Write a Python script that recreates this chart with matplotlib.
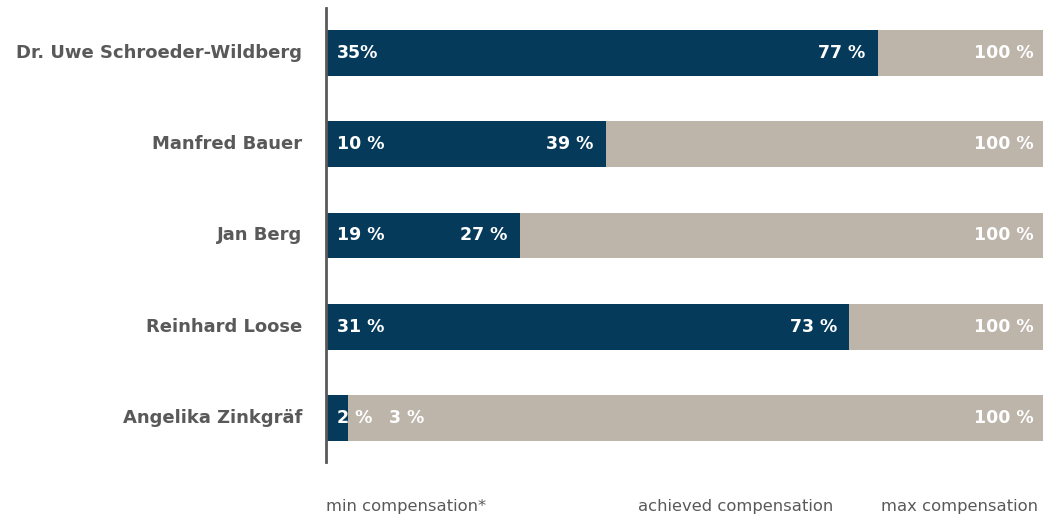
import matplotlib
matplotlib.use('Agg')
import matplotlib.pyplot as plt

names = ["Dr. Uwe Schroeder-Wildberg", "Manfred Bauer", "Jan Berg",
         "Reinhard Loose", "Angelika Zinkgräf"]
achieved = [77, 39, 27, 73, 3]
max_comp = [100, 100, 100, 100, 100]
min_labels = ["35%", "10 %", "19 %", "31 %", "2 %"]
achieved_labels = ["77 %", "39 %", "27 %", "73 %", "3 %"]
max_labels = ["100 %", "100 %", "100 %", "100 %", "100 %"]
legend_texts = ["min compensation*", "achieved compensation", "max compensation"]

navy = "#063a5b"
grey = "#bdb4aa"
text_grey = "#595959"
fnt = "DejaVu Sans"

fig = plt.figure(figsize=(10.43, 5.15), dpi=100)
ax = fig.add_axes([326 / 1043, 1 - 462 / 515, 717 / 1043, 454 / 515])

ypos = list(range(len(names)))
ax.barh(ypos, max_comp, height=0.5, color=grey)
ax.barh(ypos, achieved, height=0.5, color=navy)

ax.set_xlim(0, 100)
ax.set_ylim(4.48, -0.49)
ax.set_xticks([])
ax.set_yticks([])
for s in ["top", "right", "bottom"]:
    ax.spines[s].set_visible(False)
ax.spines["left"].set_color(text_grey)
ax.spines["left"].set_linewidth(2)
ax.spines["left"].set_zorder(5)

for i, name in enumerate(names):
    ax.annotate(name, (0, i), xytext=(-17, 0), textcoords="offset points",
                ha="right", va="center", fontsize=13, fontweight="bold",
                color=text_grey, family=fnt)
    ax.annotate(min_labels[i], (0, i), xytext=(8, 0), textcoords="offset points",
                ha="left", va="center", fontsize=12.5, fontweight="bold",
                color="white", family=fnt)
    if achieved[i] > 10:
        ax.annotate(achieved_labels[i], (achieved[i], i), xytext=(-9, 0),
                    textcoords="offset points", ha="right", va="center",
                    fontsize=12.5, fontweight="bold", color="white", family=fnt)
    else:
        ax.annotate(achieved_labels[i], (achieved[i], i), xytext=(30, 0),
                    textcoords="offset points", ha="left", va="center",
                    fontsize=12.5, fontweight="bold", color="white", family=fnt)
    ax.annotate(max_labels[i], (max_comp[i], i), xytext=(-7, 0),
                textcoords="offset points", ha="right", va="center",
                fontsize=12.5, fontweight="bold", color="white", family=fnt)

fig.text(326 / 1043, 1 - 507 / 515, legend_texts[0], ha="left", va="center",
         fontsize=11.8, color=text_grey, family=fnt)
fig.text(736 / 1043, 1 - 507 / 515, legend_texts[1], ha="center", va="center",
         fontsize=11.8, color=text_grey, family=fnt)
fig.text(1038 / 1043, 1 - 507 / 515, legend_texts[2], ha="right", va="center",
         fontsize=11.8, color=text_grey, family=fnt)

fig.savefig("out.png", dpi=100)
